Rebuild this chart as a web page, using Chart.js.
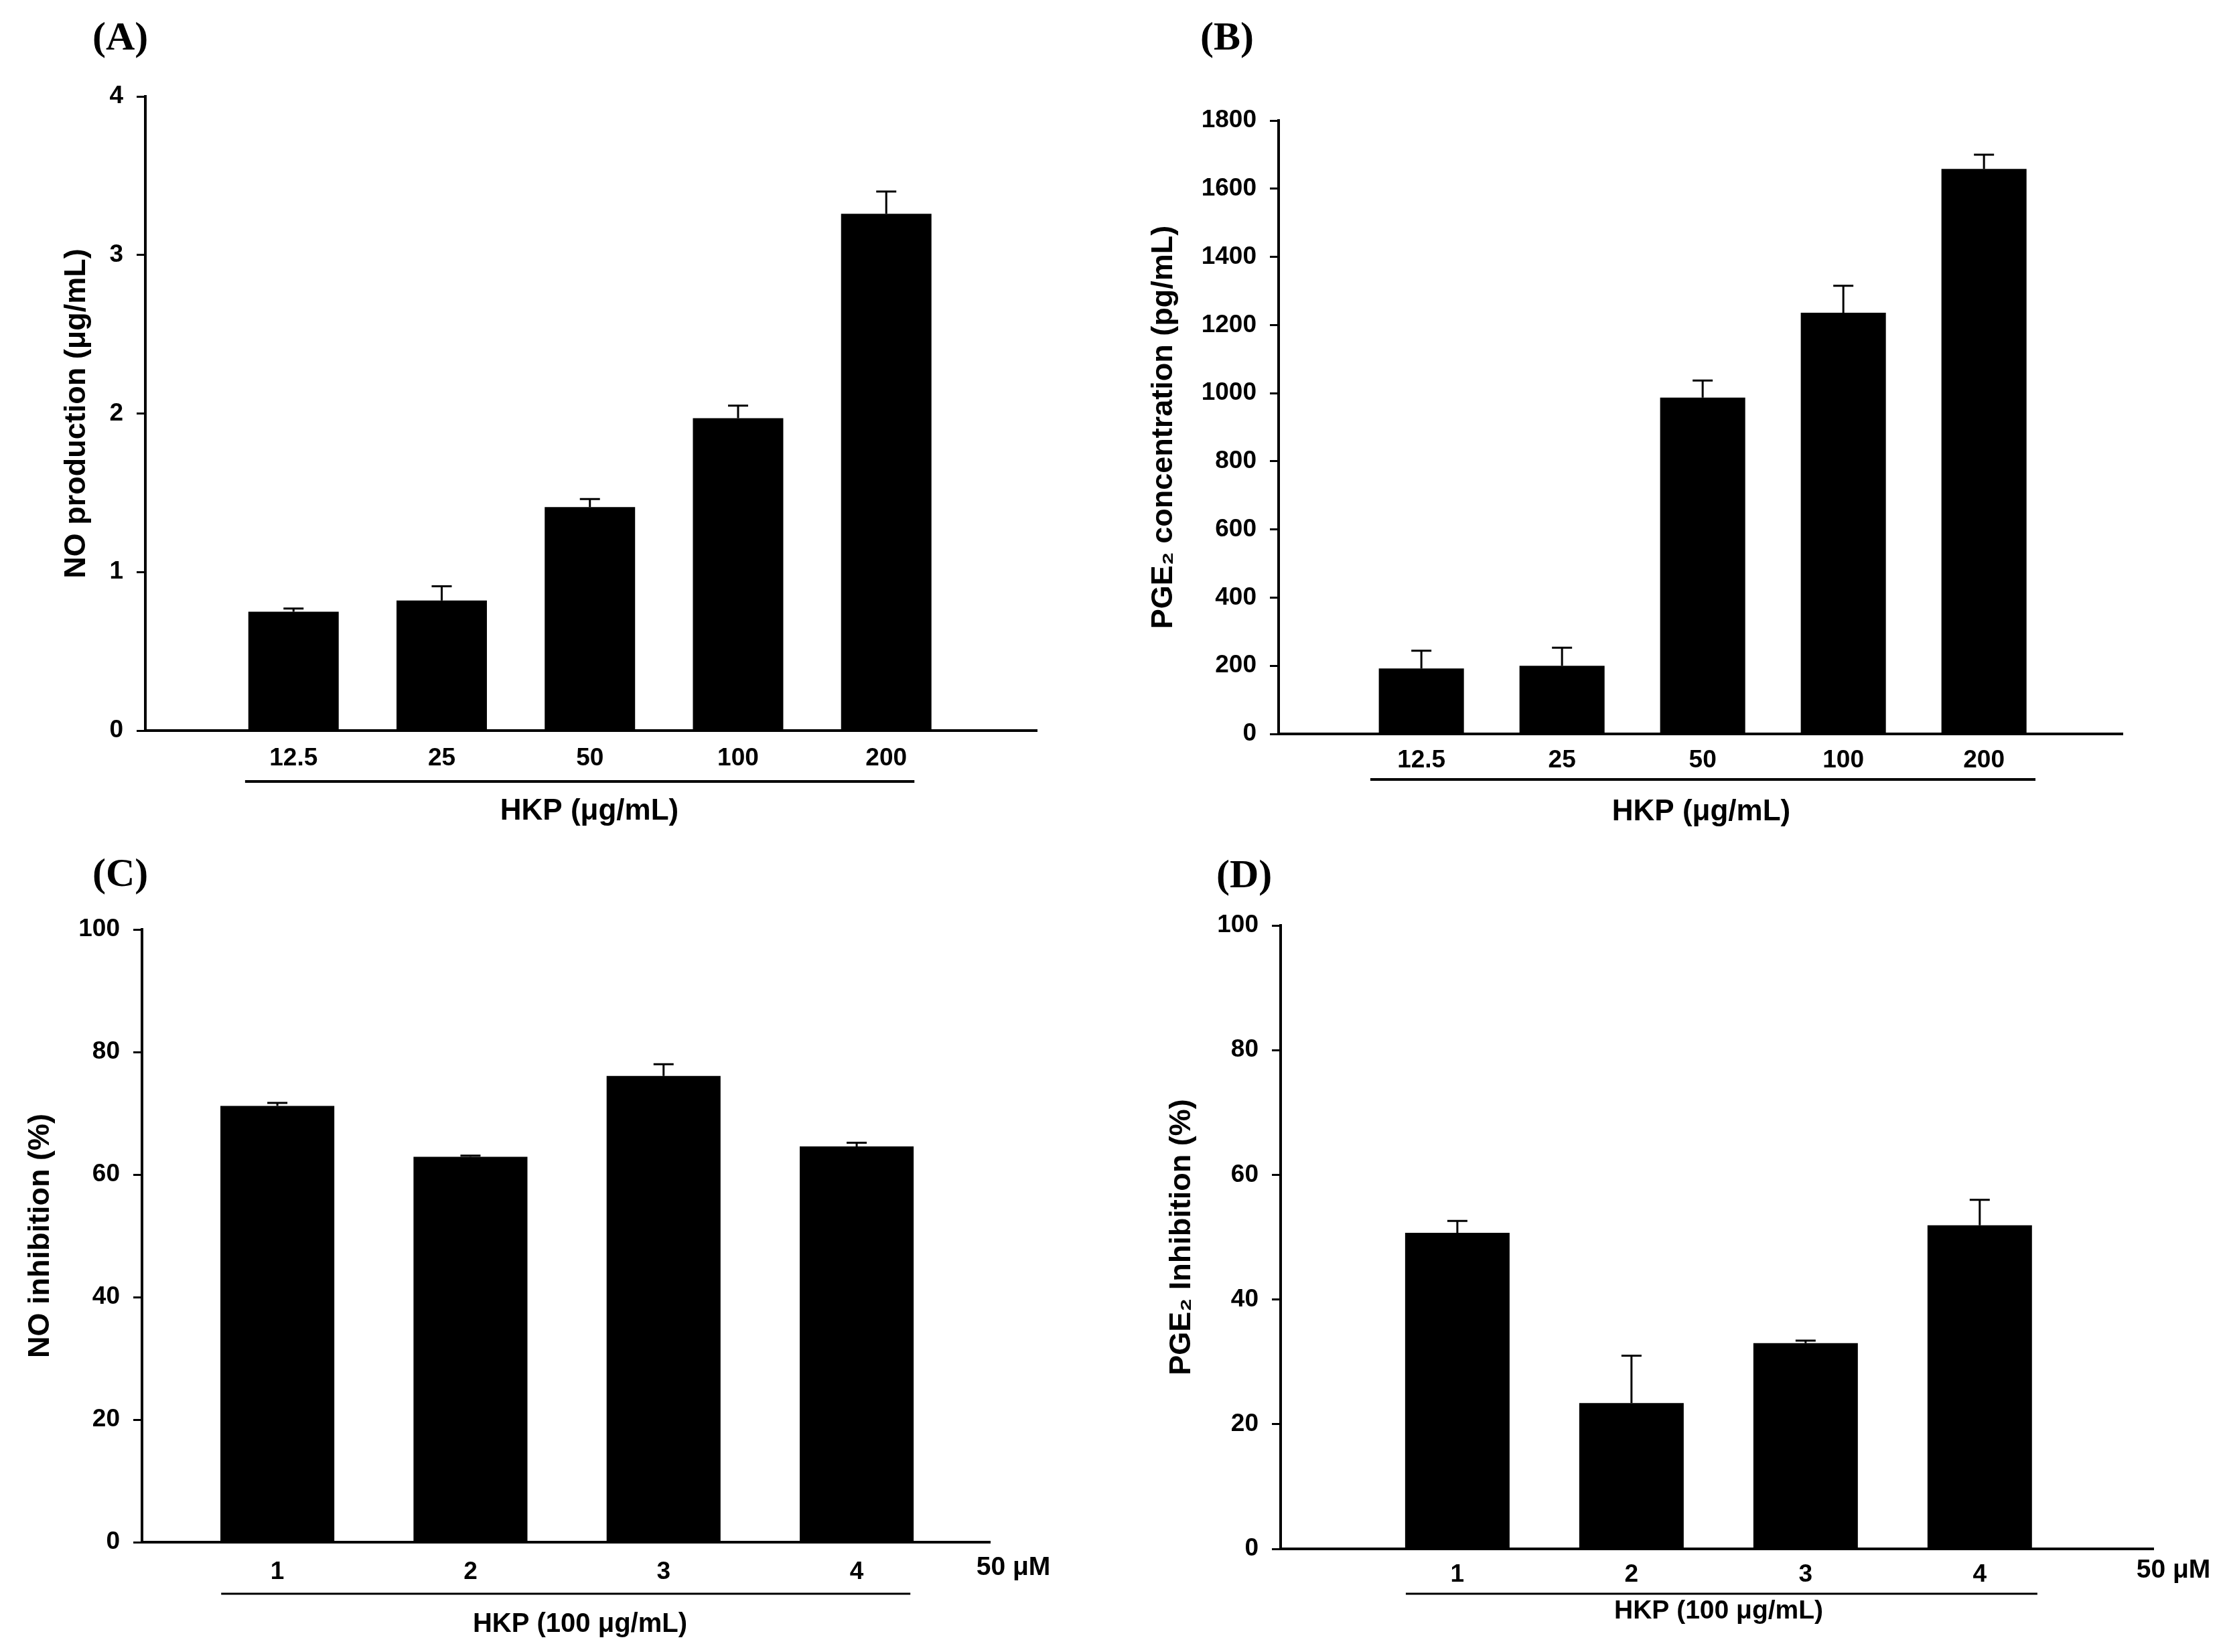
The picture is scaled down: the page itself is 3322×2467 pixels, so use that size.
<!DOCTYPE html>
<html>
<head>
<meta charset="utf-8">
<title>HKP NO / PGE2</title>
<script src="https://cdn.jsdelivr.net/npm/chart.js@4.4.1/dist/chart.umd.min.js"></script>
<style>
  html, body { margin: 0; padding: 0; background: #fff; }
  body { width: 3322px; height: 2467px; position: relative; overflow: hidden; }
  canvas { position: absolute; }
</style>
</head>
<body>
<canvas id="chartA" width="1661" height="1240" style="left:0;top:0"></canvas>
<canvas id="chartB" width="1661" height="1240" style="left:1661px;top:0"></canvas>
<canvas id="chartC" width="1661" height="1227" style="left:0;top:1240px"></canvas>
<canvas id="chartD" width="1661" height="1227" style="left:1661px;top:1240px"></canvas>
<script>
// ---- data ----
const doseLabels = ['12.5', '25', '50', '100', '200'];
const noProduction = [0.75, 0.82, 1.41, 1.97, 3.26];
const noProductionErr = [0.02, 0.09, 0.05, 0.08, 0.14];
const noProductionTicks = [0, 1, 2, 3, 4];

const pge2Conc = [192, 200, 987, 1236, 1658];
const pge2ConcErr = [52, 53, 50, 79, 42];
const pge2ConcTicks = [0, 200, 400, 600, 800, 1000, 1200, 1400, 1600, 1800];

const compoundLabels = ['1', '2', '3', '4'];
const noInhibition = [71.2, 62.9, 76.1, 64.6];
const noInhibitionErr = [0.5, 0.2, 1.9, 0.6];
const pge2Inhibition = [50.7, 23.4, 33.0, 51.9];
const pge2InhibitionErr = [1.9, 7.6, 0.4, 4.1];
const percentTicks = [0, 20, 40, 60, 80, 100];

const SANS = '"Liberation Sans", Arial, sans-serif';
const SERIF = '"Liberation Serif", "Times New Roman", serif';

// error bars (upward only, with cap)
const errorBars = {
  id: 'errorBars',
  afterDatasetsDraw(chart, args, opts) {
    const ctx = chart.ctx;
    const yScale = chart.scales.y;
    const meta = chart.getDatasetMeta(0);
    const data = chart.data.datasets[0].data;
    ctx.save();
    ctx.strokeStyle = '#000';
    ctx.lineWidth = opts.lineWidth;
    meta.data.forEach((bar, i) => {
      const yTop = yScale.getPixelForValue(data[i].y + opts.errors[i]);
      ctx.beginPath();
      ctx.moveTo(bar.x, bar.y);
      ctx.lineTo(bar.x, yTop);
      ctx.moveTo(bar.x - opts.cap / 2, yTop);
      ctx.lineTo(bar.x + opts.cap / 2, yTop);
      ctx.stroke();
    });
    ctx.restore();
  }
};

// panel letter, bracket under the categories, group title, side note
const panelExtras = {
  id: 'panelExtras',
  afterDraw(chart, args, o) {
    const ctx = chart.ctx;
    const xScale = chart.scales.x;
    ctx.save();
    ctx.fillStyle = '#000';
    ctx.textBaseline = 'middle';

    ctx.textAlign = 'left';
    ctx.font = 'bold 60px ' + SERIF;
    ctx.fillText(o.letter, o.letterX, o.letterY);

    ctx.strokeStyle = '#000';
    ctx.lineWidth = o.bracketWidth;
    ctx.beginPath();
    ctx.moveTo(xScale.getPixelForValue(o.bracket[0]), o.bracketY);
    ctx.lineTo(xScale.getPixelForValue(o.bracket[1]), o.bracketY);
    ctx.stroke();

    ctx.textAlign = 'center';
    ctx.font = 'bold ' + o.titleSize + 'px ' + SANS;
    ctx.fillText(o.title, o.titleX, o.titleY);

    if (o.note) {
      ctx.font = 'bold 39px ' + SANS;
      ctx.fillText(o.note, o.noteX, o.noteY);
    }
    ctx.restore();
  }
};

function makePanel(id, p) {
  const [bx, by, bw, bh] = p.box;
  const el = document.getElementById(id);
  return new Chart(el, {
    type: 'bar',
    data: {
      datasets: [{
        data: p.values.map((v, i) => ({ x: i + 1, y: v })),
        backgroundColor: '#000',
        borderWidth: 0,
        categoryPercentage: 1,
        barPercentage: p.barPct
      }]
    },
    options: {
      responsive: false,
      devicePixelRatio: 1,
      animation: false,
      layout: {
        padding: { left: 0, top: p.top - by, right: bx + bw - p.right, bottom: 0 }
      },
      scales: {
        x: {
          type: 'linear',
          offset: false,
          min: p.xMin,
          max: p.xMax,
          afterBuildTicks: (s) => { s.ticks = p.labels.map((l, i) => ({ value: i + 1 })); },
          afterFit: (s) => { s.height = by + bh - p.bottom; },
          grid: { display: false, drawTicks: false, offset: false },
          border: { display: true, color: '#000', width: 4 },
          ticks: {
            autoSkip: false,
            maxRotation: 0,
            padding: p.xLabelPad,
            color: '#000',
            font: { family: SANS, size: 37, weight: 'bold' },
            callback: (v) => p.labels[v - 1]
          }
        },
        y: {
          min: p.yTicks[0],
          max: p.yTicks[p.yTicks.length - 1],
          afterBuildTicks: (s) => { s.ticks = p.yTicks.map(v => ({ value: v })); },
          afterFit: (s) => { s.width = p.axisX - bx; },
          grid: { drawOnChartArea: false, drawTicks: true, tickLength: 13, color: '#000', lineWidth: 3 },
          border: { display: true, color: '#000', width: 4 },
          ticks: {
            padding: 20,
            color: '#000',
            font: { family: SANS, size: 37, weight: 'bold' },
            callback: (v) => String(v)
          },
          title: {
            display: true,
            text: p.yTitle,
            color: '#000',
            font: { family: SANS, size: 45, weight: 'bold' },
            padding: { top: p.yTitleX - bx - 27, bottom: 0 }
          }
        }
      },
      plugins: {
        legend: { display: false },
        tooltip: { enabled: false },
        errorBars: { errors: p.errors, lineWidth: 3, cap: 30 },
        panelExtras: {
          letter: p.letter, letterX: p.letterX - bx, letterY: p.letterY - by,
          bracket: p.bracket, bracketY: p.bracketY - by, bracketWidth: p.bracketWidth,
          title: p.xTitle, titleSize: p.xTitleSize, titleX: p.xTitleX - bx, titleY: p.xTitleY - by,
          note: p.note, noteX: p.note ? p.noteX - bx : 0, noteY: p.note ? p.noteY - by : 0
        }
      }
    },
    plugins: [errorBars, panelExtras]
  });
}

makePanel('chartA', {
  box: [0, 0, 1661, 1240],
  axisX: 217, top: 144, bottom: 1091, right: 1548,
  xMin: 0, xMax: 6.016, barPct: 0.61, xLabelPad: 20,
  labels: doseLabels, values: noProduction, errors: noProductionErr, yTicks: noProductionTicks,
  yTitle: 'NO production (μg/mL)', yTitleX: 115,
  letter: '(A)', letterX: 138, letterY: 58,
  bracket: [0.673, 5.19], bracketY: 1167, bracketWidth: 4,
  xTitle: 'HKP (μg/mL)', xTitleSize: 44, xTitleX: 880, xTitleY: 1212
});

makePanel('chartB', {
  box: [1661, 0, 1661, 1240],
  axisX: 1909, top: 180, bottom: 1096, right: 3169,
  xMin: -0.015, xMax: 5.985, barPct: 0.605, xLabelPad: 18,
  labels: doseLabels, values: pge2Conc, errors: pge2ConcErr, yTicks: pge2ConcTicks,
  yTitle: 'PGE₂ concentration (pg/mL)', yTitleX: 1738,
  letter: '(B)', letterX: 1792, letterY: 58,
  bracket: [0.637, 5.366], bracketY: 1164, bracketWidth: 4,
  xTitle: 'HKP (μg/mL)', xTitleSize: 44, xTitleX: 2540, xTitleY: 1213
});

makePanel('chartC', {
  box: [0, 1240, 1661, 1227],
  axisX: 212, top: 1388, bottom: 2303, right: 1478,
  xMin: 0.299, xMax: 4.69, barPct: 0.59, xLabelPad: 23,
  labels: compoundLabels, values: noInhibition, errors: noInhibitionErr, yTicks: percentTicks,
  yTitle: 'NO inhibition (%)', yTitleX: 61,
  letter: '(C)', letterX: 138, letterY: 1307,
  bracket: [0.709, 4.278], bracketY: 2380, bracketWidth: 3,
  xTitle: 'HKP (100 μg/mL)', xTitleSize: 40, xTitleX: 866, xTitleY: 2426,
  note: '50 μM', noteX: 1513, noteY: 2341
});

makePanel('chartD', {
  box: [1661, 1240, 1661, 1227],
  axisX: 1912, top: 1382, bottom: 2313, right: 3215,
  xMin: -0.015, xMax: 4.997, barPct: 0.6, xLabelPad: 17,
  labels: compoundLabels, values: pge2Inhibition, errors: pge2InhibitionErr, yTicks: percentTicks,
  yTitle: 'PGE₂ Inhibition (%)', yTitleX: 1765,
  letter: '(D)', letterX: 1816, letterY: 1309,
  bracket: [0.704, 4.331], bracketY: 2380, bracketWidth: 3,
  xTitle: 'HKP (100 μg/mL)', xTitleSize: 39, xTitleX: 2566, xTitleY: 2406,
  note: '50 μM', noteX: 3245, noteY: 2345
});
</script>
</body>
</html>
